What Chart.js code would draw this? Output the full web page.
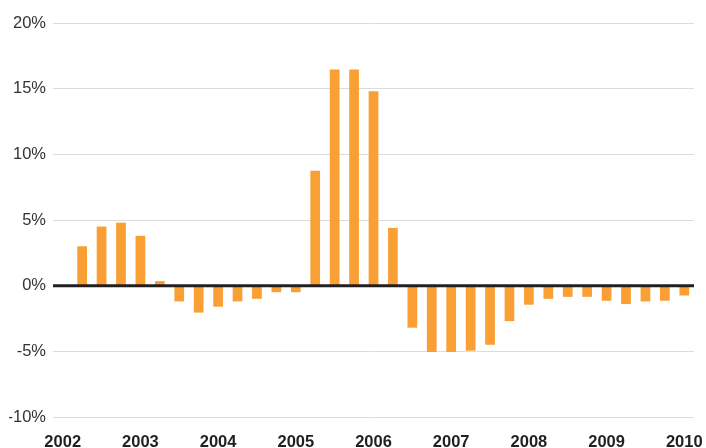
<!DOCTYPE html>
<html>
<head>
<meta charset="utf-8">
<script src="https://cdn.jsdelivr.net/npm/chart.js@4"></script>
<style>
  html, body { margin: 0; padding: 0; background: #fff; }
  #wrap { width: 706px; height: 448px; position: relative; }
</style>
</head>
<body>
<div id="wrap"><canvas id="growth_chart"></canvas></div>
<script>
const quarters = [
    '2002 Q1', '2002 Q2', '2002 Q3', '2002 Q4',
    '2003 Q1', '2003 Q2', '2003 Q3', '2003 Q4',
    '2004 Q1', '2004 Q2', '2004 Q3', '2004 Q4',
    '2005 Q1', '2005 Q2', '2005 Q3', '2005 Q4',
    '2006 Q1', '2006 Q2', '2006 Q3', '2006 Q4',
    '2007 Q1', '2007 Q2', '2007 Q3', '2007 Q4',
    '2008 Q1', '2008 Q2', '2008 Q3', '2008 Q4',
    '2009 Q1', '2009 Q2', '2009 Q3', '2009 Q4',
    '2010 Q1'
]
const change = [
    null, 3.0, 4.5, 4.8,
    3.8, 0.35, -1.2, -2.05,
    -1.6, -1.2, -1.0, -0.5,
    -0.5, 8.75, 16.45, 16.45,
    14.8, 4.4, -3.2, -5.05,
    -5.05, -4.95, -4.5, -2.7,
    -1.45, -1.0, -0.85, -0.85,
    -1.15, -1.4, -1.2, -1.15,
    -0.75
]
const yTicks = [-10, -5, 0, 5, 10, 15, 20]

// dark baseline at 0%, drawn over the bars
const zeroLine = {
    id: 'zeroLine',
    afterDatasetsDraw(chart) {
        const {ctx, chartArea, scales} = chart
        const y = scales.y.getPixelForValue(0)
        ctx.save()
        ctx.strokeStyle = '#231f20'
        ctx.lineWidth = 3
        ctx.beginPath()
        ctx.moveTo(chartArea.left, y)
        ctx.lineTo(chartArea.right, y)
        ctx.stroke()
        ctx.restore()
    }
}

const config = {
    type: 'bar',
    data: {
        labels: quarters,
        datasets: [{
            label: 'Change',
            data: change,
            backgroundColor: '#f99f33',
            borderWidth: 0,
            barPercentage: 0.5,
            categoryPercentage: 1.0
        }]
    },
    options: {
        responsive: true,
        maintainAspectRatio: false,
        animation: false,
        layout: {
            padding: {top: 23, left: 9, right: 12, bottom: 0}
        },
        plugins: {
            legend: {display: false},
            tooltip: {enabled: false}
        },
        scales: {
            x: {
                offset: true,
                grid: {display: false, drawTicks: false},
                border: {display: false},
                afterFit: function (axis) {
                    axis.height = 31
                    axis.paddingLeft = 0
                    axis.paddingRight = 0
                },
                ticks: {
                    autoSkip: false,
                    maxRotation: 0,
                    padding: 16,
                    color: '#231f20',
                    font: {family: "'Liberation Sans', Arial, sans-serif", size: 16.5, weight: 'bold'},
                    callback: function (val, i) {
                        const q = quarters[i]
                        return q.endsWith('Q1') ? q.slice(0, 4) : ''
                    }
                }
            },
            y: {
                min: yTicks[0],
                max: yTicks[yTicks.length - 1],
                border: {display: false},
                grid: {
                    color: '#dcdcdc',
                    lineWidth: 1,
                    drawTicks: false
                },
                afterBuildTicks: function (axis) {
                    axis.ticks = yTicks.map(v => ({value: v}))
                },
                afterFit: function (axis) {
                    axis.width = 44
                },
                ticks: {
                    padding: 7,
                    color: '#333333',
                    font: {family: "'Liberation Sans', Arial, sans-serif", size: 16.5},
                    callback: v => v + '%'
                }
            }
        }
    },
    plugins: [zeroLine]
}

const growth_chart = new Chart(
    document.getElementById('growth_chart'),
    config
)
</script>
</body>
</html>
